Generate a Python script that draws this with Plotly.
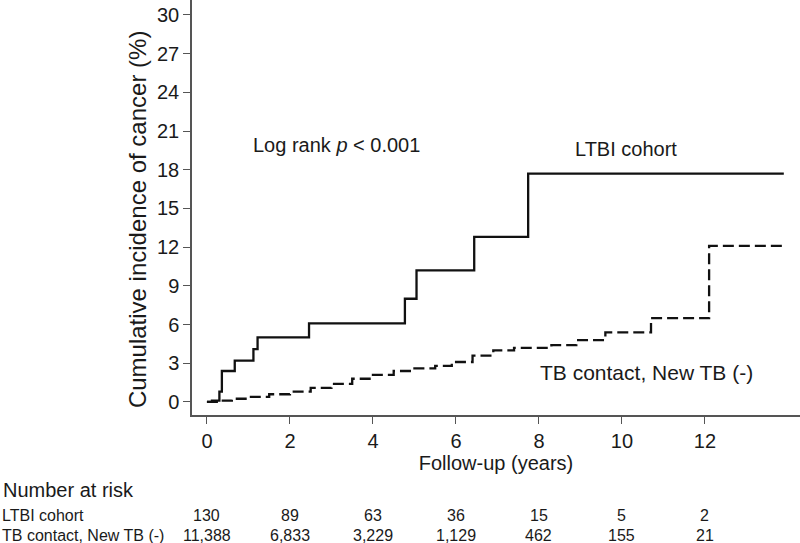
#!/usr/bin/env python3
"""
Cumulative incidence of cancer: LTBI cohort vs TB contacts without new TB
"""

import plotly.graph_objects as go

# Step curves (years, cumulative incidence %)
ltbi_years = [0, 0.12, 0.3, 0.36, 0.67, 1.12, 1.22, 2.46, 4.77, 5.05, 6.44, 7.74, 13.9]
ltbi_inc = [0, 0.1, 0.8, 2.4, 3.2, 4.1, 5.0, 6.1, 8.0, 10.2, 12.8, 17.7, 17.7]

contact_years = [0, 0.3, 0.6, 1.0, 1.5, 2.0, 2.5, 3.0, 3.5, 4.0, 4.5, 5.0, 5.5,
                 5.9, 6.4, 6.9, 7.4, 8.3, 8.9, 9.6, 10.7, 12.1, 13.95]
contact_inc = [0, 0.1, 0.25, 0.4, 0.6, 0.8, 1.1, 1.4, 1.8, 2.1, 2.4, 2.6, 2.8,
               3.1, 3.6, 4.0, 4.2, 4.4, 4.8, 5.4, 6.5, 12.1, 12.1]

# Number at risk table
risk_years = [0, 2, 4, 6, 8, 10, 12]
risk_ltbi = ["130", "89", "63", "36", "15", "5", "2"]
risk_contact = ["11,388", "6,833", "3,229", "1,129", "462", "155", "21"]
row_labels = ["LTBI cohort", "TB contact, New TB (-)"]

y_ticks = list(range(0, 31, 3))
x_ticks = list(range(0, 13, 2))

ink = "#1a1a1a"
font_name = "Liberation Sans, Arial, sans-serif"

fig = go.Figure()

fig.add_trace(go.Scatter(
    x=ltbi_years, y=ltbi_inc, mode="lines", line_shape="hv",
    line=dict(color="#111", width=2.3), name=row_labels[0],
))
fig.add_trace(go.Scatter(
    x=contact_years, y=contact_inc, mode="lines", line_shape="hv",
    line=dict(color="#111", width=2.3, dash="11px,5px"), name=row_labels[1],
))

# Curve labels and test result
fig.add_annotation(x=10.1, y=19.6, text="LTBI cohort", showarrow=False,
                   font=dict(size=20, color=ink))
fig.add_annotation(x=10.6, y=2.3, text="TB contact, New TB (-)", showarrow=False,
                   font=dict(size=21, color=ink))
fig.add_annotation(x=3.13, y=19.9, text="Log rank <i>p</i> < 0.001", showarrow=False,
                   font=dict(size=20, color=ink))

# y axis title, placed by hand (sits a little below the plot centre)
fig.add_annotation(x=0, xref="paper", xanchor="center", xshift=-55,
                   y=0.472, yref="paper", yanchor="middle",
                   text="Cumulative incidence of cancer (%)", textangle=-90,
                   showarrow=False, font=dict(size=24, color=ink))

# Risk table below the axis
fig.add_annotation(x=0, xref="paper", xanchor="left", xshift=-191,
                   y=-0.212, yref="paper", text="Number at risk", showarrow=False,
                   font=dict(size=20, color=ink))
row_y = [-0.265, -0.313]
for yy, label, counts in zip(row_y, row_labels, [risk_ltbi, risk_contact]):
    fig.add_annotation(x=0, xref="paper", xanchor="left", xshift=-191,
                       y=yy, yref="paper", text=label, showarrow=False,
                       borderpad=0, font=dict(size=16, color=ink))
    for yr, n in zip(risk_years, counts):
        fig.add_annotation(x=yr, xref="x", y=yy, yref="paper", text=n,
                           showarrow=False, borderpad=0,
                           font=dict(size=16, color=ink))

axis_common = dict(
    showline=True, linecolor="#555", linewidth=1.5, ticks="outside",
    tickcolor="#555", ticklen=7, showgrid=False, zeroline=False,
    tickfont=dict(size=20, color=ink),
)

fig.update_xaxes(
    range=[-0.36, 14.29], tickvals=x_ticks, ticklabelstandoff=0,
    title=dict(text="Follow-up (years)", font=dict(size=20, color=ink), standoff=5),
    **axis_common,
)
fig.update_yaxes(
    range=[-1.01, 31.16], tickvals=y_ticks, ticklabelstandoff=0,
    **axis_common,
)

fig.update_layout(
    width=800, height=543,
    margin=dict(l=192, r=0, t=0, b=128),
    plot_bgcolor="white", paper_bgcolor="white",
    showlegend=False,
    font=dict(family=font_name, color=ink),
)

# drop the default page margin so the figure sits at the window's corner
fig.write_html("out.html", config={"displayModeBar": False},
               post_script="document.body.style.margin='0px';")
